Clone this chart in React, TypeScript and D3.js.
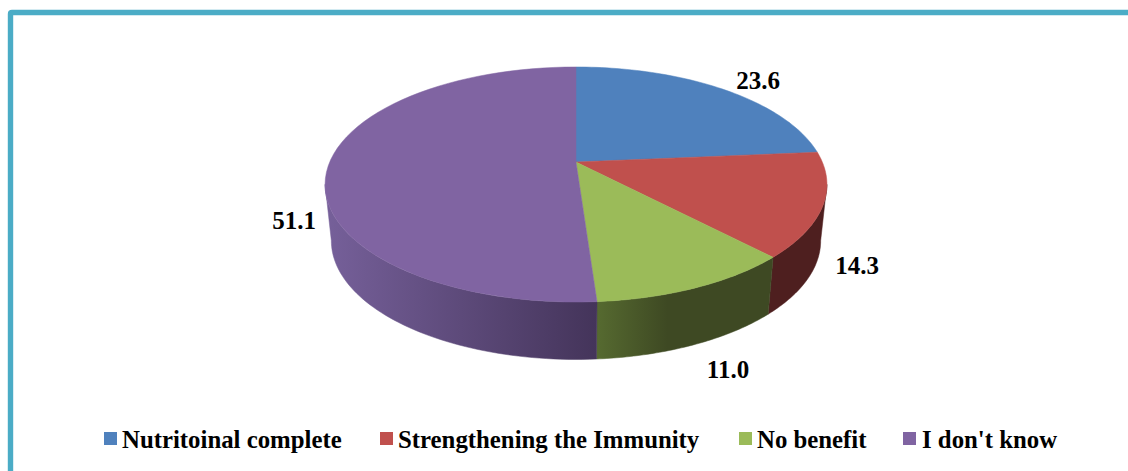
import React from "react";
import * as d3 from "d3";

const categories = ["Nutritoinal complete", "Strengthening the Immunity", "No benefit", "I don't know"];
const values = [23.6, 14.3, 11.0, 51.1];
const valueLabels = ["23.6", "14.3", "11.0", "51.1"];
const colors = ["#4f81bd", "#c0504d", "#9bbb59", "#8064a2"];
const wallStart = ["#2f4d71", "#4e1f1f", "#3e4923", "#44345a"];
const wallEnd = ["#2f4d71", "#4e1f1f", "#566a30", "#76609a"];
const wallHold = [0, 0, 0.6, 0];

const W = 1128, H = 471;
const CX = 576, APEX_Y = 162;
const PERSP = 0.1915, YB = -82.2, XC = 246.3;
const WALL_SX = 0.975, WALL_SY = 1.01, WALL_Y0 = 218;
const VIS_A = (101 * Math.PI) / 180, VIS_B = (259 * Math.PI) / 180;

const labelPos: [number, number][] = [[758, 88.5], [857, 273.5], [728, 377.5], [294, 228.5]];
const legendSwatchX = [104, 380, 739, 903];
const legendTextX = [122, 398, 757, 922];

// A circle on the tilted disc, seen in perspective
function top(a: number): [number, number] {
  const u = Math.sin(a), v = Math.cos(a), d = 1 + PERSP * v;
  return [CX + (XC * u) / d, (APEX_Y + YB * v) / d];
}
function bottom(a: number): [number, number] {
  const [x, y] = top(a);
  return [CX + WALL_SX * (x - CX), WALL_Y0 + WALL_SY * (y - APEX_Y)];
}
const samples = (a0: number, a1: number) => d3.range(0, 61).map((i) => a0 + ((a1 - a0) * i) / 60);
const line = d3.line<[number, number]>();

export default function App() {
  const arcs = d3.pie<number>().sort(null)(values);
  return (
    <svg width={W} height={H} viewBox={`0 0 ${W} ${H}`}
      style={{ position: "absolute", left: 0, top: 0, display: "block", background: "#fff" }}>
      <defs>
        {arcs.map((s, i) => {
          const a0 = Math.max(s.startAngle, VIS_A), a1 = Math.min(s.endAngle, VIS_B);
          if (a1 <= a0) return null;
          return (
            <linearGradient key={i} id={`wall${i}`} gradientUnits="userSpaceOnUse" x1={top(a0)[0]} x2={top(a1)[0]} y1={0} y2={0}>
              <stop offset={wallHold[i]} stopColor={wallStart[i]} />
              <stop offset={1} stopColor={wallEnd[i]} />
            </linearGradient>
          );
        })}
      </defs>

      <path d="M10.5 471V14Q10.5 12.5 12 12.5H1128" fill="none" stroke="#4bacc6" strokeWidth={5.4} />

      {arcs.map((s, i) => {
        const a0 = Math.max(s.startAngle, VIS_A), a1 = Math.min(s.endAngle, VIS_B);
        if (a1 <= a0) return null;
        const as = samples(a0, a1);
        const pts = [...as.map(top), ...as.slice().reverse().map(bottom)];
        return <path key={i} d={line(pts)! + "Z"} fill={`url(#wall${i})`} stroke={`url(#wall${i})`} strokeWidth={0.5} />;
      })}

      {arcs.map((s, i) => {
        const pts: [number, number][] = [[CX, APEX_Y], ...samples(s.startAngle, s.endAngle).map(top)];
        return <path key={i} d={line(pts)! + "Z"} fill={colors[i]} stroke={colors[i]} strokeWidth={0.5} />;
      })}

      <g fontFamily="'Liberation Serif', serif" fontWeight="bold" fill="#000">
        {valueLabels.map((t, i) => (
          <text key={i} x={labelPos[i][0]} y={labelPos[i][1]} fontSize={25} textAnchor="middle">{t}</text>
        ))}
        {categories.map((c, i) => (
          <g key={c}>
            <rect x={legendSwatchX[i]} y={432} width={13} height={13} fill={colors[i]} />
            <text x={legendTextX[i]} y={448} fontSize={24.8}>{c}</text>
          </g>
        ))}
      </g>
    </svg>
  );
}
